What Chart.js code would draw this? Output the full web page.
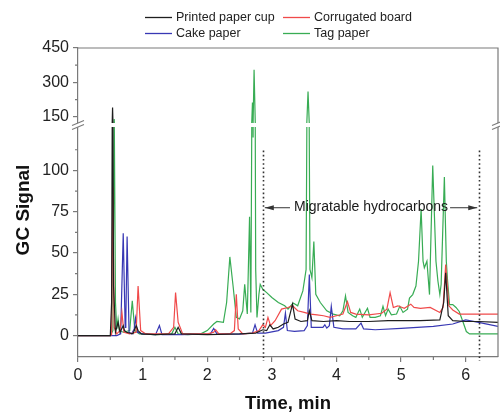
<!DOCTYPE html>
<html><head><meta charset="utf-8">
<script src="https://cdn.jsdelivr.net/npm/chart.js@4.4.1/dist/chart.umd.min.js"></script>
<style>html,body{margin:0;padding:0;background:#fff}#wrap{width:500px;height:412px;position:relative}</style>
</head><body><div id="wrap"><canvas id="c" width="500" height="412"></canvas></div>
<script>
const seriesNames = ['Printed paper cup', 'Corrugated board', 'Cake paper', 'Tag paper'];

const cupTime   = [0, 0.5, 0.52, 0.535, 0.55, 0.58, 0.62, 0.65, 0.7, 0.72, 0.75, 0.85, 0.9, 0.93, 0.98, 1.2, 1.5, 1.55, 1.6, 2.0, 2.5, 2.75, 2.86, 2.92, 2.97, 3.02, 3.1, 3.18, 3.25, 3.32, 3.36, 3.45, 3.55, 3.58, 3.62, 3.8, 4.0, 4.2, 4.5, 4.8, 5.0, 5.3, 5.6, 5.66, 5.69, 5.73, 5.8, 6.0, 6.2, 6.5];
const cupSignal = [0, 0, 20, 190, 30, 2, 8, 2, 6, 3, 2, 1, 6, 3, 1, 0.5, 1, 5, 1, 0.5, 1, 1.5, 3.5, 3, 6.5, 4, 5, 7, 8, 19, 10, 8.5, 9, 15, 9, 8.5, 9, 8.5, 8.5, 9, 9, 9, 9.5, 20, 38, 12, 9, 8.5, 8.5, 8];

const boardTime   = [0, 0.5, 0.52, 0.54, 0.56, 0.6, 0.65, 0.68, 0.71, 0.8, 0.9, 0.93, 0.97, 1.05, 1.4, 1.48, 1.51, 1.55, 1.62, 2.0, 2.1, 2.13, 2.18, 2.35, 2.42, 2.45, 2.48, 2.55, 2.7, 2.8, 2.86, 2.9, 2.94, 2.98, 3.05, 3.15, 3.25, 3.32, 3.4, 3.5, 3.6, 3.7, 3.8, 3.9, 4.0, 4.1, 4.17, 4.22, 4.3, 4.5, 4.7, 4.78, 4.83, 4.88, 4.95, 5.05, 5.15, 5.2, 5.3, 5.45, 5.6, 5.65, 5.69, 5.74, 5.8, 5.9, 6.0, 6.5];
const boardSignal = [0, 0, 0.5, 90, 5, 1, 3, 14, 2, 1, 2, 30, 3, 1, 1, 5, 26, 8, 1, 1, 2, 3.5, 1, 1, 3, 25, 4, 1, 1.5, 3, 6.5, 5, 11, 6, 9, 16, 17, 18, 15, 14, 13, 12.5, 12, 11, 12, 13, 20.5, 14, 13, 12.5, 13.5, 16, 26, 17, 18, 16.5, 19, 17, 16.5, 17, 14, 17, 43, 18, 15.5, 13, 13, 13];

const cakeTime   = [0, 0.6, 0.66, 0.7, 0.73, 0.74, 0.76, 0.79, 0.83, 0.87, 0.89, 0.92, 1.0, 1.2, 1.26, 1.3, 1.6, 2.05, 2.1, 2.15, 2.5, 2.7, 2.74, 2.78, 2.9, 3.1, 3.18, 3.21, 3.24, 3.35, 3.5, 3.55, 3.58, 3.61, 3.7, 3.79, 3.82, 3.85, 3.89, 3.92, 3.96, 4.1, 4.3, 4.38, 4.42, 4.6, 5.0, 5.5, 5.8, 6.0, 6.2, 6.5];
const cakeSignal = [0, 0, 1, 62, 5, 8, 60, 2, 1, 4, 10.5, 2, 1, 0.5, 6, 0.5, 0.5, 1, 4.3, 1, 0.8, 1.5, 6.5, 1.5, 1.5, 3, 5, 13.6, 3, 2.5, 3, 6, 37, 5, 5, 5, 6.5, 4.5, 6, 17.7, 5, 4, 4, 7.5, 4, 3.5, 4.3, 5.5, 7, 9.5, 8, 5.5];

const tagTime   = [0, 0.5, 0.54, 0.56, 0.58, 0.6, 0.62, 0.64, 0.7, 0.8, 0.84, 0.88, 0.95, 1.2, 1.45, 1.5, 1.55, 1.7, 1.9, 2.0, 2.1, 2.15, 2.25, 2.3, 2.35, 2.4, 2.45, 2.5, 2.55, 2.58, 2.62, 2.655, 2.675, 2.7, 2.71, 2.725, 2.75, 2.77, 2.8, 2.82, 2.86, 2.92, 3.0, 3.1, 3.2, 3.25, 3.33, 3.4, 3.48, 3.53, 3.56, 3.59, 3.62, 3.65, 3.68, 3.75, 3.85, 3.95, 4.05, 4.1, 4.14, 4.18, 4.25, 4.3, 4.36, 4.4, 4.48, 4.52, 4.6, 4.68, 4.72, 4.76, 4.8, 4.85, 4.93, 4.98, 5.03, 5.1, 5.13, 5.18, 5.23, 5.27, 5.31, 5.34, 5.36, 5.4, 5.44, 5.49, 5.54, 5.57, 5.6, 5.62, 5.67, 5.7, 5.72, 5.75, 5.8, 5.85, 5.9, 5.96, 6.01, 6.06, 6.5];
const tagSignal = [0, 0, 3, 140, 20, 4, 10, 3, 2, 3, 21, 3, 1, 0.5, 1, 5, 1, 0.5, 1, 3, 7, 8.5, 8, 20, 47.6, 30, 11, 10, 15, 31, 13, 72, 14, 212, 120, 355, 40, 11, 25, 31, 28, 26, 23, 20, 18, 16, 19.7, 18, 27, 40, 260, 40, 35, 57, 25, 20, 15, 13, 12, 15, 24, 14, 12, 11, 16, 11, 16.5, 11, 11, 12, 17.7, 12, 16, 12.5, 13, 17.7, 14, 16, 22.7, 24.8, 30, 45, 76.6, 45, 41, 45, 24.8, 103, 45, 33, 24.8, 31, 96, 45, 33, 18.7, 18.7, 17, 14.6, 8, 2.4, 1, 1];

const xTicks = [0, 1, 2, 3, 4, 5, 6];
const xMinor = [0.5, 1.5, 2.5, 3.5, 4.5, 5.5];
const lowerTicks = [0, 25, 50, 75, 100];
const lowerMinor = [12.5, 37.5, 62.5, 87.5, 112.5];
const upperTicks = [150, 300, 450];
const upperMinor = [225, 375];
const markerTimes = [2.86, 6.21];
const markerTop = 112;
const arrowLevel = 78;
const annotationText = 'Migratable hydrocarbons';

const FONT = 'Liberation Sans, Arial, Helvetica, sans-serif';
Chart.defaults.font.family = FONT;
const colors = ['#1e1e1e', '#f04a4a', '#3838b4', '#38ac54'];
const AXIS = '#7a7a7a';

const series = [[cupTime, cupSignal], [boardTime, boardSignal], [cakeTime, cakeSignal], [tagTime, tagSignal]];
const datasets = [];
series.forEach((s, i) => {
  ['y', 'yTop'].forEach(ax => {
    datasets.push({
      label: seriesNames[i],
      data: s[0].map((t, k) => ({x: t, y: s[1][k]})),
      yAxisID: ax,
      borderColor: colors[i],
      borderWidth: 1.2,
      pointRadius: 0,
      tension: 0,
      fill: false,
      order: i
    });
  });
});

const breakClip = {
  id: 'breakClip',
  beforeDatasetDraw(chart, args) {
    const meta = args.meta;
    const sc = chart.scales[meta.yAxisID];
    const ca = chart.chartArea;
    const ctx = chart.ctx;
    let top = sc.top, bottom = sc.bottom;
    if (meta.yAxisID === 'y') top += 2; else bottom -= 2;
    ctx.save();
    ctx.beginPath();
    ctx.rect(ca.left, top, ca.right - ca.left, bottom - top);
    ctx.clip();
  },
  afterDatasetDraw(chart) { chart.ctx.restore(); }
};

function arrow(ctx, x1, x2, y) {
  ctx.beginPath(); ctx.moveTo(x1, y); ctx.lineTo(x2, y); ctx.stroke();
  const dir = x2 > x1 ? 1 : -1;
  ctx.beginPath();
  ctx.moveTo(x2, y);
  ctx.lineTo(x2 - dir * 9, y - 2.6);
  ctx.lineTo(x2 - dir * 9, y + 2.6);
  ctx.closePath(); ctx.fill();
}

const deco = {
  id: 'deco',
  afterDraw(chart) {
    const {ctx, chartArea: ca, scales} = chart;
    const xs = scales.x, yl = scales.y, yu = scales.yTop;
    ctx.save();
    // frame top & right
    ctx.strokeStyle = AXIS; ctx.lineWidth = 1.2;
    ctx.beginPath();
    ctx.moveTo(ca.left, ca.top); ctx.lineTo(ca.right, ca.top); ctx.lineTo(ca.right, ca.bottom);
    ctx.stroke();
    // minor ticks
    ctx.beginPath();
    xMinor.forEach(v => { const p = xs.getPixelForValue(v); ctx.moveTo(p, ca.bottom); ctx.lineTo(p, ca.bottom + 3); });
    lowerMinor.forEach(v => { const p = yl.getPixelForValue(v); ctx.moveTo(ca.left - 3, p); ctx.lineTo(ca.left, p); });
    upperMinor.forEach(v => { const p = yu.getPixelForValue(v); ctx.moveTo(ca.left - 3, p); ctx.lineTo(ca.left, p); });
    ctx.stroke();
    // axis breaks
    const by = yl.top;
    [ca.left, ca.right].forEach(bx => {
      ctx.fillStyle = '#fff';
      ctx.beginPath();
      ctx.moveTo(bx - 6, by + 0.5); ctx.lineTo(bx + 6, by - 4.5);
      ctx.lineTo(bx + 6, by - 0.5); ctx.lineTo(bx - 6, by + 4.5);
      ctx.closePath(); ctx.fill();
      ctx.strokeStyle = AXIS; ctx.lineWidth = 1.1;
      ctx.beginPath();
      ctx.moveTo(bx - 6, by + 0.5); ctx.lineTo(bx + 6, by - 4.5);
      ctx.moveTo(bx - 6, by + 4.5); ctx.lineTo(bx + 6, by - 0.5);
      ctx.stroke();
    });
    // dotted markers
    ctx.strokeStyle = '#333'; ctx.lineWidth = 1.6;
    ctx.setLineDash([1.6, 2.6]);
    markerTimes.forEach(t => {
      const px = Math.round(xs.getPixelForValue(t)) + 0.5;
      ctx.beginPath(); ctx.moveTo(px, yl.getPixelForValue(markerTop)); ctx.lineTo(px, ca.bottom + 4); ctx.stroke();
    });
    ctx.setLineDash([]);
    // annotation text & arrows
    const ay = yl.getPixelForValue(arrowLevel);
    const m1 = xs.getPixelForValue(markerTimes[0]), m2 = xs.getPixelForValue(markerTimes[1]);
    const mid = (m1 + m2) / 2;
    ctx.font = '14px ' + FONT;
    ctx.fillStyle = '#1a1a1a';
    ctx.textAlign = 'center'; ctx.textBaseline = 'middle';
    ctx.fillText(annotationText, mid, ay);
    const w = ctx.measureText(annotationText).width;
    ctx.strokeStyle = '#333'; ctx.fillStyle = '#333'; ctx.lineWidth = 1;
    arrow(ctx, mid - w / 2 - 4, m1 + 2, ay + 1);
    arrow(ctx, mid + w / 2 + 2, m2 - 2, ay + 1);
    // axis titles
    ctx.fillStyle = '#111';
    ctx.font = 'bold 19px ' + FONT;
    ctx.save();
    ctx.translate(28.5, 210);
    ctx.rotate(-Math.PI / 2);
    ctx.textAlign = 'center'; ctx.textBaseline = 'alphabetic';
    ctx.fillText('GC Signal', 0, 0);
    ctx.restore();
    ctx.font = 'bold 18.5px ' + FONT;
    ctx.textAlign = 'center'; ctx.textBaseline = 'alphabetic';
    ctx.fillText('Time, min', (ca.left + ca.right) / 2, 409);
    // legend
    const legendPos = [[145, 17.5], [283, 17.5], [145, 33.5], [283, 33.5]];
    ctx.font = '12.5px ' + FONT;
    ctx.textAlign = 'left'; ctx.textBaseline = 'middle';
    seriesNames.forEach((n, i) => {
      const [lx, ly] = legendPos[i];
      ctx.strokeStyle = colors[i]; ctx.lineWidth = 1.3;
      ctx.beginPath(); ctx.moveTo(lx, ly); ctx.lineTo(lx + 27, ly); ctx.stroke();
      ctx.fillStyle = '#222';
      ctx.fillText(n, lx + 31, ly + 0.5);
    });
    ctx.restore();
  }
};

const yCommon = {
  type: 'linear', position: 'left', stack: 'gc',
  afterFit: s => { s.width = 78; },
  ticks: {font: {size: 16}, color: '#222', padding: 4},
  grid: {drawOnChartArea: false, tickLength: 5, color: AXIS, lineWidth: 1.2},
  border: {color: AXIS, width: 1.2}
};

new Chart(document.getElementById('c'), {
  type: 'line',
  data: {datasets},
  options: {
    responsive: false,
    animation: false,
    events: [],
    layout: {padding: {top: 48, right: 2, left: 0, bottom: 0}},
    plugins: {legend: {display: false}, tooltip: {enabled: false}},
    scales: {
      x: {
        type: 'linear', position: 'bottom', min: 0, max: 6.5,
        afterBuildTicks: s => { s.ticks = xTicks.map(v => ({value: v})); },
        afterFit: s => { s.height = 55; },
        ticks: {font: {size: 16}, color: '#222', padding: 4, maxRotation: 0, autoSkip: false},
        grid: {drawOnChartArea: false, tickLength: 5, color: AXIS, lineWidth: 1.2},
        border: {color: AXIS, width: 1.2}
      },
      y: Object.assign({}, yCommon, {
        min: -13, max: 127.5, stackWeight: 232, weight: 1,
        afterBuildTicks: s => { s.ticks = lowerTicks.map(v => ({value: v})); }
      }),
      yTop: Object.assign({}, yCommon, {
        min: 114, max: 450, stackWeight: 77, weight: 2,
        afterBuildTicks: s => { s.ticks = upperTicks.map(v => ({value: v})); }
      })
    }
  },
  plugins: [breakClip, deco]
});
</script></body></html>
